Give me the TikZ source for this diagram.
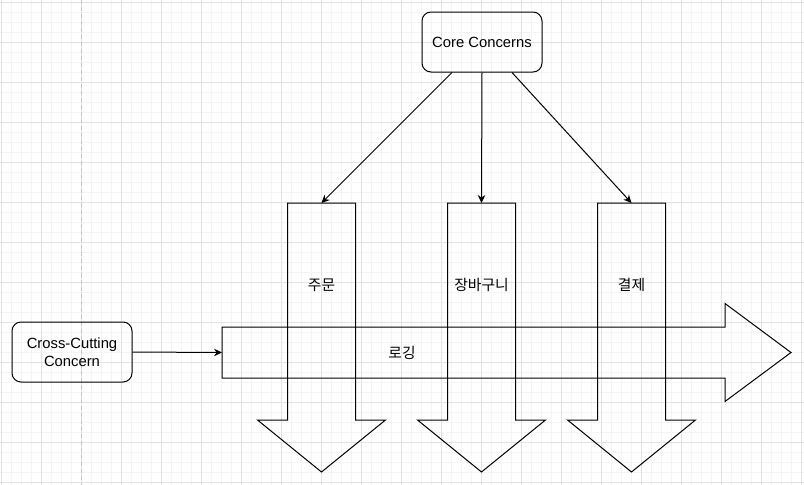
\documentclass[tikz,border=0pt]{standalone}
\usepackage{fontspec}
\setmainfont{Liberation Sans}
\newfontfamily\kofont{Noto Sans CJK KR}
\usepackage{tikz}
\usetikzlibrary{arrows.meta, positioning, calc}
\definecolor{gridminor}{HTML}{F4F4F4}
\definecolor{gridmajor}{HTML}{E2E2E2}
\definecolor{pageline}{HTML}{C4C4C4}
\colorlet{inkline}{black}

\tikzset{
  concernbox/.style={draw=inkline, line width=1pt, rounded corners=9pt,
    minimum width=120pt, minimum height=60pt, align=center, inner sep=0pt,
    font=\fontsize{14.8}{18}\selectfont},
  bigarrow/.style={draw=inkline, line width=1pt, line join=miter},
  label/.style={font=\kofont\fontsize{14.8}{18}\selectfont, inner sep=1pt},
  link/.style={-{Stealth[length=8pt, width=7.5pt]}, line width=1pt, inkline}
}

\begin{document}
\begin{tikzpicture}[x=1pt,y=-1pt]
  \useasboundingbox (0,0) rectangle (804,485);
  \fill[white] (0,0) rectangle (804,485);
  % --- background grid ---
  \foreach \gx in {1,11,...,801} \draw[gridminor, line width=1pt] (\gx,0) -- (\gx,485);
  \foreach \gy in {2,12,...,482} \draw[gridminor, line width=1pt] (0,\gy) -- (804,\gy);
  \foreach \gx in {1,41,...,801} \draw[gridmajor, line width=1pt] (\gx,0) -- (\gx,485);
  \foreach \gy in {2,42,...,482} \draw[gridmajor, line width=1pt] (0,\gy) -- (804,\gy);
  \draw[pageline, line width=1pt, dash pattern=on 4pt off 3pt] (81,0) -- (81,485);
  % --- concerns ---
  \node[concernbox] (core) at (482,42) {Core Concerns};
  \node[concernbox] (cross) at (72,352) {Cross-Cutting\\Concern};
  % --- vertical arrows: order ---
  \begin{scope}[shift={(321.5,0)}]
    \draw[bigarrow] (-34,203) -- (34,203) -- (34,420) -- (64,420) -- (0,472)
      -- (-64,420) -- (-34,420) -- cycle;
    \coordinate (order) at (0,203);
    \node[label] (orderlbl) at (0,285) {주문};
  \end{scope}
  % --- vertical arrows: cart ---
  \begin{scope}[shift={(481.5,0)}]
    \draw[bigarrow] (-34,203) -- (34,203) -- (34,420) -- (64,420) -- (0,472)
      -- (-64,420) -- (-34,420) -- cycle;
    \coordinate (cart) at (0,203);
    \node[label] (cartlbl) at (0,285) {장바구니};
  \end{scope}
  % --- vertical arrows: payment ---
  \begin{scope}[shift={(631.5,0)}]
    \draw[bigarrow] (-34,203) -- (34,203) -- (34,420) -- (64,420) -- (0,472)
      -- (-64,420) -- (-34,420) -- cycle;
    \coordinate (pay) at (0,203);
    \node[label] (paylbl) at (0,285) {결제};
  \end{scope}
  % --- horizontal arrow: logging ---
  \draw[bigarrow] (222,327) -- (725,327) -- (725,303.5) -- (791,352.5)
    -- (725,401.5) -- (725,378) -- (222,378) -- cycle;
  \coordinate (logging) at (222,352.5);
  \node[label] (loglbl) at (402,353) {로깅};
  % --- links ---
  \draw[link] ([xshift=-30pt]core.south) -- (order);
  \draw[link] (core.south) -- (cart);
  \draw[link] ([xshift=30pt]core.south) -- (pay);
  \draw[link] (cross.east) -- (logging);
\end{tikzpicture}
\end{document}
